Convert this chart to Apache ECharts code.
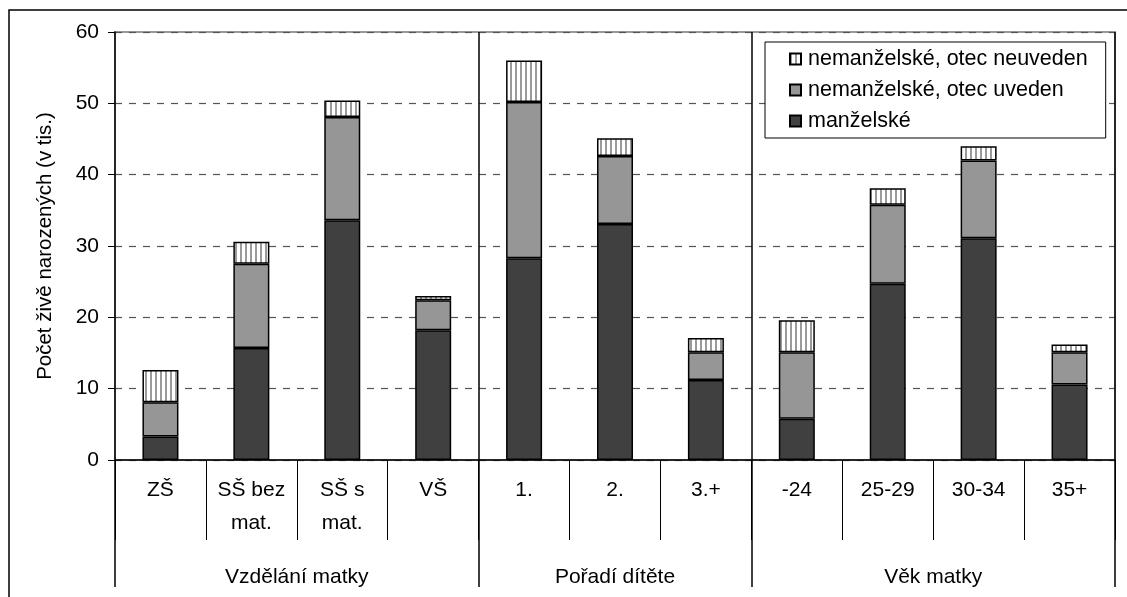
<!DOCTYPE html>
<html>
<head>
<meta charset="utf-8">
<script src="https://cdn.jsdelivr.net/npm/echarts@6/dist/echarts.min.js"></script>
<style>
html,body{margin:0;padding:0;background:#fff;}
#chart{width:1127px;height:597px;}
</style>
</head>
<body>
<div id="chart"></div>
<script>
const categories = ['ZŠ', 'SŠ bez\nmat.', 'SŠ s\nmat.', 'VŠ', '1.', '2.', '3.+', '-24', '25-29', '30-34', '35+'];
const groupLabels = ['Vzdělání matky', 'Pořadí dítěte', 'Věk matky'];
const groupBounds = [0, 4, 7, 11];
const groupCenters = [2, 5.5, 9];
const seriesNames = ['manželské', 'nemanželské, otec uveden', 'nemanželské, otec neuveden'];
const manzelske = [3.3, 15.7, 33.6, 18.2, 28.3, 33.1, 11.2, 5.8, 24.7, 31.1, 10.6];
const otecUveden = [4.8, 11.8, 14.5, 4.2, 21.9, 9.5, 3.9, 9.3, 11.1, 10.9, 4.5];
const otecNeuveden = [4.5, 3.1, 2.3, 0.6, 5.8, 2.5, 2.0, 4.5, 2.3, 2.0, 1.1];
const yTicks = [0, 10, 20, 30, 40, 50, 60];
const yName = 'Počet živě narozených (v tis.)';

const FONT = 'Liberation Sans, Arial, sans-serif';
const FS = 21;
const pc = document.createElement('canvas');
pc.width = 5; pc.height = 10;
const pctx = pc.getContext('2d');
pctx.fillStyle = '#ffffff'; pctx.fillRect(0, 0, 5, 10);
pctx.fillStyle = '#9a9a9a'; pctx.fillRect(0, 0, 2, 10);

const chart = echarts.init(document.getElementById('chart'), null, {renderer: 'canvas'});
const border = {borderColor: '#000', borderWidth: 1.5};
chart.setOption({
  backgroundColor: '#fff',
  animation: false,
  textStyle: {fontFamily: FONT, color: '#000'},
  grid: {left: 115, right: 12, top: 32, bottom: 137, show: true, borderColor: '#999', borderWidth: 2, backgroundColor: 'transparent'},
  legend: {
    data: [seriesNames[2], seriesNames[1], seriesNames[0]],
    orient: 'vertical',
    left: 765, top: 42,
    padding: [6, 18, 6, 24],
    itemGap: 9,
    itemWidth: 11, itemHeight: 11,
    borderColor: '#000', borderWidth: 1,
    backgroundColor: '#fff',
    textStyle: {fontFamily: FONT, fontSize: 21.5, color: '#000', padding: [0, 0, 0, 2]},
    icon: 'rect'
  },
  xAxis: [{
    type: 'category',
    data: categories,
    axisLine: {lineStyle: {color: '#000', width: 1.5}},
    axisTick: {show: true, length: 80, lineStyle: {color: '#000', width: 1}},
    axisLabel: {fontFamily: FONT, fontSize: FS, color: '#000', margin: 14, lineHeight: 33, interval: 0, verticalAlign: 'top'},
    splitLine: {show: true, interval: function (idx) { return idx === 4 || idx === 7; }, lineStyle: {color: '#000', width: 1.5, type: 'solid'}}
  }, {
    type: 'value',
    min: 0, max: 11,
    position: 'bottom',
    axisLine: {show: false},
    axisTick: {show: true, customValues: groupBounds, length: 127, lineStyle: {color: '#000', width: 1.5}},
    axisLabel: {show: true, customValues: groupCenters, margin: 107, fontFamily: FONT, fontSize: FS, color: '#000', verticalAlign: 'top',
      formatter: function (v) { const i = groupCenters.indexOf(v); return i >= 0 ? groupLabels[i] : ''; }},
    splitLine: {show: false}
  }],
  yAxis: {
    type: 'value', min: yTicks[0], max: yTicks[yTicks.length - 1], interval: 10,
    name: yName, nameLocation: 'middle', nameGap: 59,
    nameTextStyle: {fontFamily: FONT, fontSize: 20.5, color: '#000'},
    axisLine: {show: true, lineStyle: {color: '#000', width: 1.5}},
    axisTick: {show: true, length: 7, lineStyle: {color: '#000'}},
    axisLabel: {fontFamily: FONT, fontSize: FS, color: '#000', margin: 16},
    splitLine: {show: true, lineStyle: {color: '#555', width: 1.2, type: [7, 7]}}
  },
  graphic: [{
    type: 'rect', silent: true, z: 100,
    shape: {x: 9, y: 10, width: 1200, height: 700},
    style: {fill: 'none', stroke: '#000', lineWidth: 1.5}
  }],
  series: [{
    name: seriesNames[0], type: 'bar', stack: 'a', data: manzelske, barWidth: 36,
    itemStyle: Object.assign({color: '#404040'}, border)
  }, {
    name: seriesNames[1], type: 'bar', stack: 'a', data: otecUveden, barWidth: 36,
    itemStyle: Object.assign({color: '#969696'}, border)
  }, {
    name: seriesNames[2], type: 'bar', stack: 'a', data: otecNeuveden, barWidth: 36,
    itemStyle: Object.assign({color: {image: pc, repeat: 'repeat'}}, border)
  }]
});
</script>
</body>
</html>
